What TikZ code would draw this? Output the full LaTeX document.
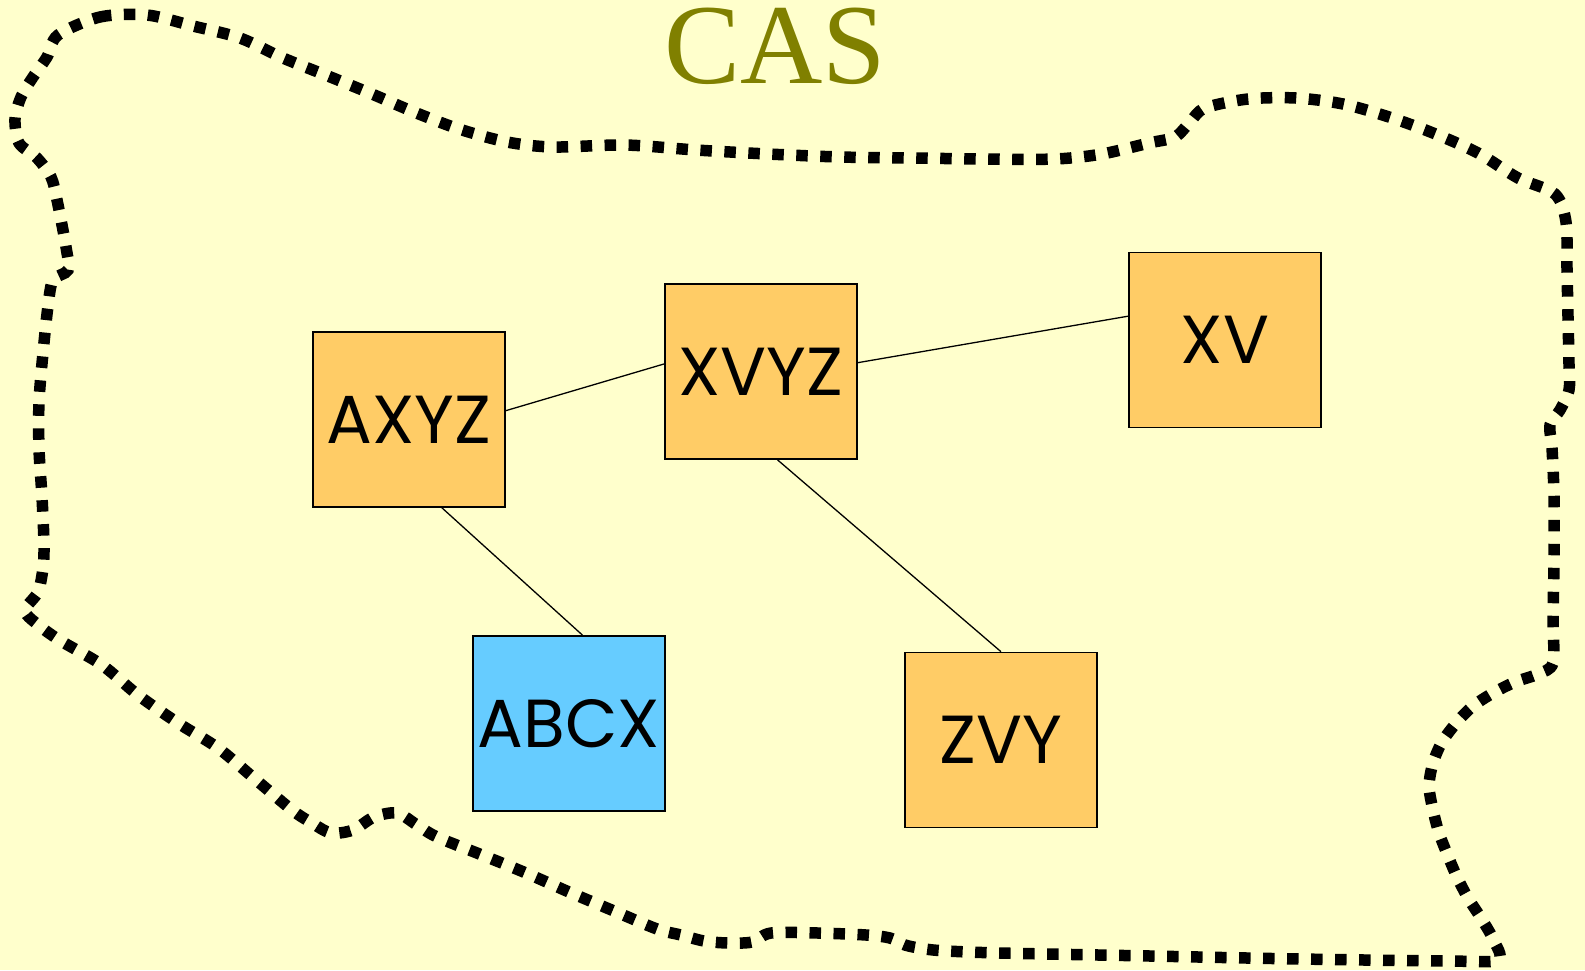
\documentclass[tikz,border=0pt]{standalone}
\usepackage{fontspec}
\setmainfont{Liberation Serif}
\newfontfamily\boxfont{Poppins}
\usetikzlibrary{calc}
\definecolor{bgcol}{HTML}{FFFFCC}
\definecolor{orangebox}{HTML}{FFCC66}
\definecolor{bluebox}{HTML}{66CCFF}
\definecolor{titlecol}{HTML}{808000}
\tikzset{
  box/.style={draw=black, line width=1.6pt, minimum width=192pt, minimum height=175pt,
    inner sep=0pt, font=\boxfont\fontsize{68}{68}\selectfont},
  orangefill/.style={box, fill=orangebox},
  bluefill/.style={box, fill=bluebox},
  link/.style={draw=black, line width=1.3pt},
  blob/.style={draw=black, line width=11.5pt, dash pattern=on 11.5pt off 12.5pt}
}
\begin{document}
\begin{tikzpicture}[x=1pt,y=-1pt]
\fill[bgcol] (0,0) rectangle (1585,970);
\useasboundingbox (0,0) rectangle (1585,970);

\draw[blob] plot[smooth cycle, tension=0.5] coordinates {
(58,35) (100,17) (147,15) (193,26) (240,38) (283,58) (328,76) (372,94) (414,112)
(459,129) (507,142) (553,147) (625,145) (696,150) (768,154) (840,157) (912,158)
(984,159) (1055,159) (1102,154) (1149,143) (1175,137) (1190,122) (1205,108)
(1248,99) (1296,98) (1343,104) (1389,117) (1433,133) (1478,153) (1518,178)
(1555,194) (1566,222) (1567,269) (1568,317) (1569,365) (1569,390) (1560,410)
(1550,425) (1552,448) (1554,496) (1554,560) (1553,620) (1553,663) (1538,674)
(1515,682) (1493,693) (1473,706) (1457,722) (1442,742) (1433,763) (1429,786)
(1433,810) (1439,833) (1448,856) (1457,877) (1468,898) (1481,918) (1493,939)
(1498,960) (1448,961) (1300,959) (1150,956) (1000,953) (947,951) (925,949)
(905,945) (890,938) (866,935) (818,933) (771,933) (752,942) (728,943) (704,941)
(681,935) (657,929) (614,911) (569,892) (526,873) (482,855) (437,837) (417,825)
(397,813) (374,817) (353,830) (331,833) (312,823) (292,810) (255,779) (218,748)
(178,723) (138,695) (102,665) (61,641) (41,627) (25,611) (38,592) (43,568)
(44,544) (42,497) (39,449) (39,402) (43,353) (48,306) (53,280) (68,270) (66,247)
(57,200) (51,177) (37,158) (19,143) (15,119) (21,97) (33,77) (47,57)};

\node[anchor=base, text=titlecol, font=\fontsize{114}{114}\selectfont] (title) at (775,83) {CAS};

\node[orangefill] (AXYZ) at (409,419.5) {AXYZ};
\node[orangefill] (XVYZ) at (761,371.5) {XVYZ};
\node[orangefill] (XV) at (1225,340) {XV};
\node[bluefill] (ABCX) at (569,723.5) {ABCX};
\node[orangefill] (ZVY) at (1001,740) {ZVY};

\draw[link] ($(AXYZ.north east)!0.45!(AXYZ.south east)$) -- ($(XVYZ.north west)!0.457!(XVYZ.south west)$);
\draw[link] ($(XVYZ.north east)!0.45!(XVYZ.south east)$) -- ($(XV.north west)!0.365!(XV.south west)$);
\draw[link] ($(AXYZ.south west)!0.67!(AXYZ.south east)$) -- ($(ABCX.north west)!0.57!(ABCX.north east)$);
\draw[link] ($(XVYZ.south west)!0.585!(XVYZ.south east)$) -- (ZVY.north);
\end{tikzpicture}
\end{document}
